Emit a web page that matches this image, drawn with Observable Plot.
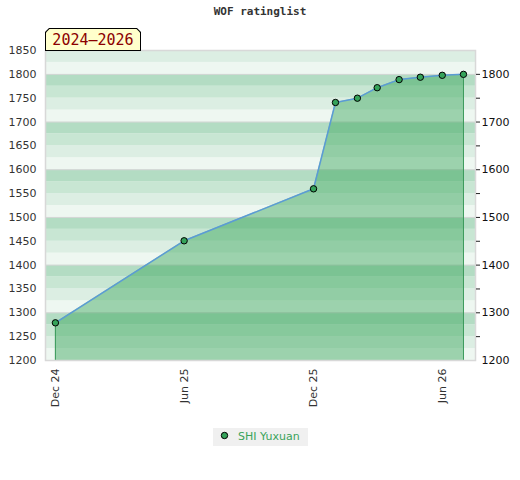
<!DOCTYPE html>
<html>
<head>
<meta charset="utf-8">
<script src="https://cdn.jsdelivr.net/npm/d3@7"></script>
<script src="https://cdn.jsdelivr.net/npm/@observablehq/plot@0.6"></script>
<style>
  body { margin: 0; background: #fff; width: 520px; height: 480px; position: relative; font-family: "DejaVu Sans", sans-serif; }
  #title { position: absolute; top: 5px; left: 0; width: 520px; text-align: center; font: bold 11px "DejaVu Sans Mono", monospace; color: #333; }
  #chart { position: absolute; top: 28px; left: 0; }
  #badge { position: absolute; top: 28px; left: 45px; width: 96px; height: 23px; background: #000;
           clip-path: polygon(4px 0, 92px 0, 96px 4px, 96px 23px, 0 23px, 0 4px); }
  #badge div { position: absolute; left: 1px; top: 1px; width: 94px; height: 21px; background: #ffffcc;
           clip-path: polygon(3.5px 0, 90.5px 0, 94px 3.5px, 94px 21px, 0 21px, 0 3.5px);
           font: 15px "DejaVu Sans Mono", monospace; color: #8b0000; line-height: 22px; text-align: center; }
  #legend { position: absolute; top: 428px; left: 213px; width: 95px; height: 18px; background: #f0f0f0;
            font: 11px "DejaVu Sans", sans-serif; color: #3aa35a; line-height: 18px; }
</style>
</head>
<body>
<div id="title">WOF ratinglist</div>
<div id="chart"></div>
<div id="badge"><div>2024–2026</div></div>
<div id="legend"><svg width="95" height="18" style="position:absolute;left:0;top:0"><circle cx="11.5" cy="7.5" r="3.2" fill="#35a35a" stroke="#000" stroke-width="1"/></svg><span style="position:absolute;left:25px;top:0">SHI Yuxuan</span></div>
<script>
const months = ["2024-12-01","2025-06-01","2025-12-01","2026-01-01","2026-02-01","2026-03-01","2026-04-01","2026-05-01","2026-06-01","2026-07-01"];
const ratings = [1279, 1451, 1560, 1741, 1750, 1772, 1789, 1794, 1798, 1800];
const player = "SHI Yuxuan";
const xTicks = ["2024-12-01","2025-06-01","2025-12-01","2026-06-01"];
const yDomain = [1200, 1850];
const xDomain = ["2024-11-17","2026-07-18"];

const parse = d3.utcParse("%Y-%m-%d");
const data = months.map((m, i) => ({date: parse(m), rating: ratings[i], name: player}));
const first = data[0], last = data[data.length - 1];

// background stripes, 25-point bands cycling through 4 shades every 100 points
const shades = ["#b3dcc3", "#c8e6d3", "#dceee3", "#eef7f1"];
const bands = d3.range(yDomain[0], yDomain[1], 25).map(v => ({
  y1: v, y2: v + 25, fill: shades[((Math.floor((1800 - (v + 25)) / 25) % 4) + 4) % 4]
}));

const chart = Plot.plot({
  width: 520,
  height: 400,
  marginTop: 22,
  marginBottom: 68,
  marginLeft: 45,
  marginRight: 45,
  style: {fontFamily: "DejaVu Sans, sans-serif", fontSize: "11px", background: "transparent"},
  x: {type: "utc", domain: xDomain.map(parse)},
  y: {domain: yDomain},
  marks: [
    Plot.rectY(bands, {x1: () => parse(xDomain[0]), x2: () => parse(xDomain[1]), y1: "y1", y2: "y2", fill: "fill"}),
    Plot.ruleY(d3.range(1300, 1850, 100), {stroke: "#d6d6d6", strokeWidth: 1}),
    Plot.areaY(data, {x: "date", y1: yDomain[0], y2: "rating", fill: "rgb(52,165,86)", fillOpacity: 0.44}),
    Plot.ruleX([first, last], {x: "date", y1: yDomain[0], y2: "rating", stroke: "#3a9a5a", strokeWidth: 1}),
    Plot.line(data, {x: "date", y: "rating", stroke: "#5b9bd5", strokeWidth: 1.5}),
    Plot.dot(data, {x: "date", y: "rating", r: 3.2, fill: "#35a35a", stroke: "#000", strokeWidth: 1}),
    Plot.frame({stroke: "#d8d8d8", strokeWidth: 1.5}),
    Plot.axisY(d3.range(1200, 1851, 50), {anchor: "left", tickSize: 0, tickPadding: 9, fill: "#333", tickFormat: "d", label: null}),
    Plot.axisY(d3.range(1250, 1801, 50), {anchor: "right", tickSize: 4, tickPadding: 2, stroke: "#222",
      tickFormat: d => d % 100 === 0 ? String(d) : "", fill: "#111", label: null}),
    Plot.axisY([1200], {anchor: "right", tickSize: 0, tickPadding: 6, fill: "#111", tickFormat: "d", label: null}),
    Plot.axisX(xTicks.map(parse), {tickSize: 0, tickPadding: 8, tickRotate: -90, tickFormat: d3.utcFormat("%b %y"), fill: "#333", label: null})
  ]
});
document.getElementById("chart").appendChild(chart);
</script>
</body>
</html>
